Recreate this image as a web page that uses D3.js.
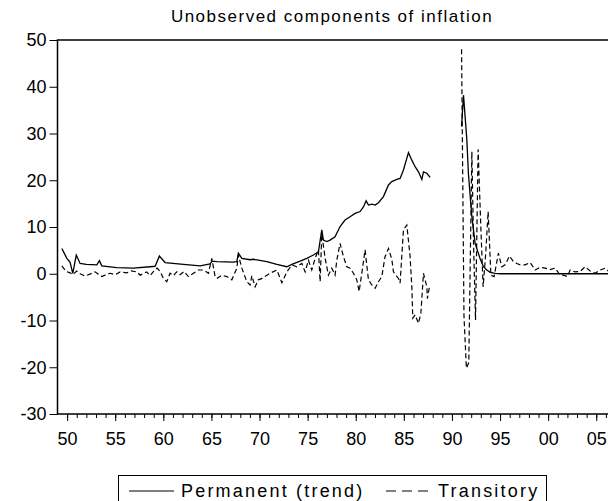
<!DOCTYPE html>
<html>
<head>
<meta charset="utf-8">
<script src="https://cdn.jsdelivr.net/npm/d3@7"></script>
<style>
  body { margin: 0; background: #fff; }
  text { font-family: Arial, "Liberation Sans", sans-serif; fill: #000; }
</style>
</head>
<body>
<script>
// Permanent (trend) component, null marks the gap in the sample
const permYears = [1949.45, 1949.75, 1949.97, 1950.3, 1950.59, 1950.95, 1951.35, 1952.0, 1953.09, 1953.36,
  1953.6, 1955.16, 1956.86, 1958.63, 1959.15, 1959.59, 1960.18, 1962.09, 1963.82, 1964.86,
  1965.07, 1965.56, 1967.25, 1967.64, 1967.8, 1968.16, 1969.02, 1969.33, 1970.76, 1971.8,
  1972.84, 1973.36, 1974.22, 1974.91, 1975.6, 1976.12, 1976.47, 1976.64, 1976.99, 1977.33,
  1977.85, 1978.37, 1978.89, 1979.41, 1979.93, 1980.45, 1980.8, 1981.08, 1981.32, 1981.67,
  1982.02, 1982.36, 1982.88, 1983.4, 1983.75, 1984.27, 1984.61, 1984.96, 1985.48, 1985.83,
  1986.17, 1986.52, 1986.87, 1987.04, 1987.39, 1987.73,
  1989.0,
  1991.0, 1991.2, 1991.55, 1991.71, 1991.9, 1992.07, 1992.41, 1992.93, 1993.27, 1993.63,
  1993.97, 1994.5, 1995.0, 2006.25];
const permValues = [5.4, 4.2, 3.3, 2.5, 0.1, 4.0, 2.2, 2.0, 1.9, 2.8,
  1.7, 1.3, 1.2, 1.5, 1.6, 3.8, 2.4, 2.0, 1.7, 2.1,
  2.7, 2.6, 2.5, 2.6, 4.4, 3.3, 3.0, 3.1, 2.6, 2.0,
  1.5, 2.0, 2.7, 3.3, 4.0, 4.7, 9.4, 7.2, 6.9, 7.2,
  7.9, 10.1, 11.5, 12.2, 12.9, 13.3, 14.3, 15.6, 14.7, 14.9,
  14.7, 15.2, 16.5, 19.0, 19.7, 20.2, 20.4, 22.2, 25.9, 24.3,
  22.9, 21.8, 20.2, 21.8, 21.5, 20.6,
  null,
  31.5, 38.2, 28.6, 21.5, 16.5, 12.2, 6.5, 3.2, 1.5, 0.8,
  0.3, 0.1, 0.0, 0.0];

// Transitory component
const transYears = [1949.45, 1949.9, 1950.31, 1950.59, 1951.0, 1951.35, 1951.87, 1952.57, 1952.91, 1953.25,
  1953.6, 1953.95, 1954.47, 1954.99, 1955.51, 1956.2, 1956.65, 1957.24, 1957.59, 1958.28,
  1958.63, 1958.94, 1959.35, 1959.67, 1960.01, 1960.36, 1960.7, 1961.05, 1961.4, 1961.74,
  1962.16, 1962.61, 1963.13, 1963.65, 1964.17, 1964.69, 1965.04, 1965.38, 1965.56, 1966.08,
  1966.6, 1967.12, 1967.64, 1967.8, 1968.16, 1968.68, 1969.02, 1969.2, 1969.54, 1969.88,
  1970.27, 1970.76, 1971.28, 1971.8, 1972.32, 1972.84, 1973.36, 1973.88, 1974.4, 1974.74,
  1975.08, 1975.43, 1975.78, 1976.12, 1976.3, 1976.47, 1976.82, 1977.16, 1977.51, 1977.85,
  1978.03, 1978.37, 1978.72, 1979.07, 1979.41, 1979.76, 1980.11, 1980.35, 1980.63, 1980.97,
  1981.32, 1981.67, 1982.02, 1982.36, 1982.71, 1983.05, 1983.4, 1983.75, 1983.92, 1984.44,
  1984.61, 1984.96, 1985.31, 1985.65, 1985.83, 1985.93, 1986.17, 1986.52, 1986.77, 1987.04,
  1987.39, 1987.45, 1987.66,
  1989.0,
  1991.0, 1991.25, 1991.5, 1991.75, 1992.07, 1992.25, 1992.45, 1992.72, 1993.0, 1993.24,
  1993.5, 1993.76, 1994.05, 1994.38, 1994.83, 1995.18, 1995.53, 1995.98, 1996.39, 1996.75,
  1997.09, 1997.61, 1998.13, 1998.65, 1999.17, 1999.69, 2000.2, 2000.72, 2001.25, 2001.59,
  2002.0, 2002.29, 2002.8, 2003.32, 2003.84, 2004.36, 2004.88, 2005.4, 2005.92, 2006.25];
const transValues = [1.7, 0.5, 0.2, -0.2, 0.6, 0.0, -0.5, 0.1, 0.4, -0.1,
  -0.6, -0.3, 0.1, -0.2, 0.4, 0.2, 0.6, 0.4, -0.3, 0.4,
  -0.4, 0.4, 1.2, 0.5, -1.0, -1.7, 0.1, -0.4, 0.4, -0.2,
  0.5, -0.6, 0.1, 0.8, 0.8, 0.1, 3.3, -0.6, -1.0, -0.3,
  -0.6, -1.3, 1.2, 4.0, 1.2, -1.7, -2.4, -0.4, -2.8, -1.3,
  -1.0, -0.3, 0.3, 0.8, -1.9, 0.4, 1.9, 1.5, 2.2, 0.4,
  2.9, 0.8, 3.3, 5.1, -1.7, 8.5, 3.3, -0.3, 1.2, -0.3,
  2.9, 6.5, 3.7, 1.5, 1.2, 0.1, -1.3, -3.8, 0.1, 5.1,
  -1.3, -2.4, -3.1, -1.7, -0.6, 3.7, 5.4, 3.1, 0.4, -1.0,
  -2.0, 9.4, 10.4, 3.7, -2.8, -9.5, -8.8, -10.6, -8.5, 0.1,
  -2.8, -5.3, -2.8,
  null,
  48.0, -9.0, -20.2, -19.0, 26.1, 6.0, -9.9, 26.6, 10.1, -2.8,
  4.0, 13.3, -0.3, -0.6, 4.4, 1.5, 1.9, 3.8, 2.6, 2.2,
  1.9, 1.9, 2.4, 0.8, 1.4, 1.2, 0.9, 1.2, -0.3, -0.3,
  -0.6, 0.8, 0.4, 0.5, 1.5, 0.6, 0.1, 0.8, 1.2, 0.6];

const yTicks = [-30, -20, -10, 0, 10, 20, 30, 40, 50];
const xMajorTicks = [1950, 1955, 1960, 1965, 1970, 1975, 1980, 1985, 1990, 1995, 2000, 2005];
const seriesNames = ['Permanent (trend)', 'Transitory'];

const fullWidth = 608;
const fullHeight = 501;
const plot = { left: 57.5, top: 40, right: 615.5, bottom: 414 };

const svg = d3.select('body')
  .append('svg')
  .attr('width', fullWidth)
  .attr('height', fullHeight);

const x = d3.scaleLinear()
  .domain([1949, 2007])
  .range([plot.left, plot.right]);

const y = d3.scaleLinear()
  .domain([-30, 50])
  .range([plot.bottom, plot.top]);

// Title
svg.append('text')
  .attr('x', 332)
  .attr('y', 22)
  .attr('text-anchor', 'middle')
  .style('font-size', '17px')
  .style('letter-spacing', '1.5px')
  .text('Unobserved components of inflation');

// Frame
svg.append('rect')
  .attr('x', plot.left)
  .attr('y', plot.top)
  .attr('width', plot.right - plot.left)
  .attr('height', plot.bottom - plot.top)
  .attr('fill', 'none')
  .attr('stroke', '#000')
  .attr('stroke-width', 1.5);

// Y axis (plain hyphen for negatives)
const yAxis = svg.append('g')
  .attr('transform', `translate(${plot.left},0)`)
  .call(d3.axisLeft(y).tickValues(yTicks).tickSize(8).tickPadding(3).tickFormat(d => String(d)));
yAxis.select('.domain').remove();
yAxis.selectAll('text').style('font-size', '18px').attr('font-family', null);

// X axis: yearly minor ticks, labelled majors every 5 years
const xMinor = svg.append('g')
  .attr('transform', `translate(0,${plot.bottom})`)
  .call(d3.axisBottom(x).tickValues(d3.range(1950, 2007)).tickSize(4).tickFormat(''));
xMinor.select('.domain').remove();

const xAxis = svg.append('g')
  .attr('transform', `translate(0,${plot.bottom})`)
  .call(d3.axisBottom(x).tickValues(xMajorTicks).tickSize(7).tickPadding(11)
    .tickFormat(d => String(d % 100).padStart(2, '0')));
xAxis.select('.domain').remove();
xAxis.selectAll('text').style('font-size', '18px').attr('font-family', null);

// Lines
const line = d3.line()
  .defined(d => d[1] !== null)
  .x(d => x(d[0]))
  .y(d => y(d[1]));

svg.append('path')
  .datum(d3.zip(permYears, permValues))
  .attr('fill', 'none')
  .attr('stroke', '#000')
  .attr('stroke-width', 1.3)
  .attr('d', line);

svg.append('path')
  .datum(d3.zip(transYears, transValues))
  .attr('fill', 'none')
  .attr('stroke', '#000')
  .attr('stroke-width', 1.2)
  .attr('stroke-dasharray', '5,3')
  .attr('d', line);

// Legend
const leg = svg.append('g');
leg.append('rect')
  .attr('x', 118.5)
  .attr('y', 475.5)
  .attr('width', 428)
  .attr('height', 40)
  .attr('fill', 'none')
  .attr('stroke', '#000')
  .attr('stroke-width', 1);

const legItems = [
  { name: seriesNames[0], x1: 129, x2: 174, tx: 181, dash: null },
  { name: seriesNames[1], x1: 386, x2: 428, tx: 438, dash: '10,6' }
];

legItems.forEach(d => {
  leg.append('line')
    .attr('x1', d.x1).attr('x2', d.x2)
    .attr('y1', 491).attr('y2', 491)
    .attr('stroke', '#000')
    .attr('stroke-width', 1.2)
    .attr('stroke-dasharray', d.dash);
  leg.append('text')
    .attr('x', d.tx)
    .attr('y', 497)
    .style('font-size', '18px')
    .style('letter-spacing', '2.2px')
    .text(d.name);
});
</script>
</body>
</html>
